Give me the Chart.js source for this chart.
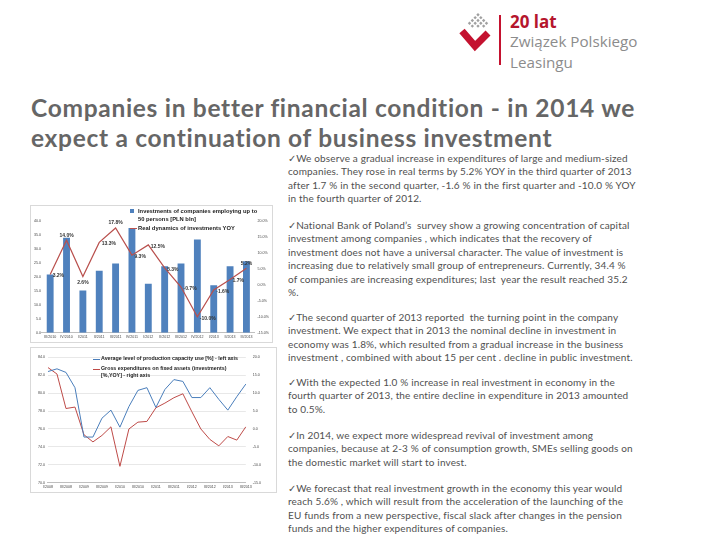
<!DOCTYPE html>
<html>
<head>
<meta charset="utf-8">
<script src="https://cdn.jsdelivr.net/npm/chart.js@4"></script>
<style>
  body { margin: 0; width: 720px; height: 540px; background: #fff; position: relative; overflow: hidden; font-family: Lato, "Open Sans", sans-serif; }
  .abs { position: absolute; }
  .logo-txt { font-family: "Open Sans", sans-serif; color: #8c8c8c; font-size: 15.2px; line-height: 14px; white-space: nowrap; }
  .title { left: 31px; font-weight: bold; font-size: 24.5px; letter-spacing: 0.7px; line-height: 24px; color: #666; white-space: nowrap; }
  .para { left: 288px; font-size: 10px; letter-spacing: 0.15px; line-height: 13.4px; color: #505050; white-space: nowrap; }
  .box { border: 1px solid #d9d9d9; background: #fff; }
  .legend { font-family: "Liberation Sans", Arial, sans-serif; font-weight: bold; color: #222; white-space: nowrap; }
</style>
</head>
<body>

<!-- logo -->
<svg class="abs" style="left:456px;top:8px" width="40" height="50">
  <g fill="#a0a0a0" transform="rotate(45 22 15)">
    <rect x="15" y="8" width="2.4" height="2.4"/><rect x="19" y="8" width="2.4" height="2.4"/><rect x="23" y="8" width="2.4" height="2.4"/><rect x="27" y="8" width="2.4" height="2.4"/>
    <rect x="15" y="12" width="2.4" height="2.4"/><rect x="19" y="12" width="2.4" height="2.4"/><rect x="23" y="12" width="2.4" height="2.4"/><rect x="27" y="12" width="2.4" height="2.4"/>
    <rect x="15" y="16" width="2.4" height="2.4"/><rect x="19" y="16" width="2.4" height="2.4"/><rect x="23" y="16" width="2.4" height="2.4"/>
    <rect x="15" y="20" width="2.4" height="2.4"/><rect x="19" y="20" width="2.4" height="2.4"/>
  </g>
  <polyline points="6,23 19,38 32,25" fill="none" stroke="#c4122f" stroke-width="7"/>
</svg>
<div class="abs" style="left:499px;top:15px;width:1.5px;height:50px;background:#c4122f"></div>
<div class="abs logo-txt" style="left:510px;top:15px;color:#b5152d;font-weight:bold;font-size:17px">20 lat</div>
<div class="abs logo-txt" style="left:510px;top:34px">Związek Polskiego</div>
<div class="abs logo-txt" style="left:510px;top:55px">Leasingu</div>

<div class="abs title" style="top:96px">Companies in better financial condition - in 2014 we</div>
<div class="abs title" style="top:126px">expect a continuation of business investment</div>

<div class="abs para" style="top:152px">✓We observe a gradual increase in expenditures of large and medium-sized<br>companies. They rose in real terms by 5.2% YOY in the third quarter of 2013<br>after 1.7 % in the second quarter, -1.6 % in the first quarter and -10.0 % YOY<br>in the fourth quarter of 2012.</div>
<div class="abs para" style="top:219px">✓National Bank of Poland’s&nbsp; survey show a growing concentration of capital<br>investment among companies , which indicates that the recovery of<br>investment does not have a universal character. The value of investment is<br>increasing due to relatively small group of entrepreneurs. Currently, 34.4 %<br>of companies are increasing expenditures; last&nbsp; year the result reached 35.2<br>%.</div>
<div class="abs para" style="top:311px">✓The second quarter of 2013 reported&nbsp; the turning point in the company<br>investment. We expect that in 2013 the nominal decline in investment in<br>economy was 1.8%, which resulted from a gradual increase in the business<br>investment , combined with about 15 per cent . decline in public investment.</div>
<div class="abs para" style="top:376px">✓With the expected 1.0 % increase in real investment in economy in the<br>fourth quarter of 2013, the entire decline in expenditure in 2013 amounted<br>to 0.5%.</div>
<div class="abs para" style="top:429px">✓In 2014, we expect more widespread revival of investment among<br>companies, because at 2-3 % of consumption growth, SMEs selling goods on<br>the domestic market will start to invest.</div>
<div class="abs para" style="top:482px">✓We forecast that real investment growth in the economy this year would<br>reach 5.6% , which will result from the acceleration of the launching of the<br>EU funds from a new perspective, fiscal slack after changes in the pension<br>funds and the higher expenditures of companies.</div>

<!-- top chart -->
<div class="abs box" style="left:30px;top:205px;width:241px;height:136px">
  <canvas id="invChart"></canvas>
</div>
<div class="abs" style="left:130px;top:209px;width:4px;height:4px;background:#4f81bd"></div>
<div class="abs legend" style="left:138px;top:207px;font-size:5.8px;line-height:8.3px">Investments of companies employing up to<br>50 persons [PLN bln]<br>Real dynamics of investments YOY</div>
<div class="abs" style="left:130px;top:227.5px;width:7px;height:1.2px;background:#b9504d"></div>

<!-- bottom chart -->
<div class="abs box" style="left:30px;top:347px;width:245px;height:144px">
  <canvas id="capChart"></canvas>
</div>
<div class="abs" style="left:93px;top:358.5px;width:7px;height:1.2px;background:#4a7ebb"></div>
<div class="abs" style="left:93px;top:368.5px;width:7px;height:1.2px;background:#be4b48"></div>
<div class="abs legend" style="left:101px;top:355px;font-size:5.3px;line-height:7.2px">Average level of production capacity use [%] - left axis<br><span style="display:inline-block;margin-top:3px">Gross expenditures on fixed assets (investments)</span><br>[%,YOY] - right axis</div>

<script>
// top chart data
const quarters = ['III/2010', 'IV/2010', 'I/2011', 'II/2011', 'III/2011', 'IV/2011', 'I/2012',
  'II/2012', 'III/2012', 'IV/2012', 'I/2013', 'II/2013', 'III/2013'];
const investments = [20.8, 34.0, 15.1, 22.2, 24.8, 37.5, 17.5, 23.8, 24.8, 33.4, 17.0, 23.8, 25.6];
const investYoy = [3.2, 14.0, 2.6, 13.3, 17.8, 9.3, 12.5, 5.3, -0.7, -10.0, -1.6, 1.7, 5.2];
const yoyLabelSide = ['right', 'above', 'below', 'right', 'above', 'right', 'right',
  'right', 'right', 'right', 'right', 'right', 'above'];

// bottom chart data
const months = ['I/2008', 'II/2008', 'III/2008', 'IV/2008', 'I/2009', 'II/2009', 'III/2009', 'IV/2009',
  'I/2010', 'II/2010', 'III/2010', 'IV/2010', 'I/2011', 'II/2011', 'III/2011', 'IV/2011',
  'I/2012', 'II/2012', 'III/2012', 'IV/2012', 'I/2013', 'II/2013', 'III/2013'];
const capacityUse = [82.4, 82.7, 82.3, 80.6, 75.1, 75.1, 77.2, 78.1, 76.2, 78.5, 80.3, 80.6,
  78.4, 80.4, 81.5, 81.3, 79.5, 79.5, 80.6, 79.3, 78.1, 79.6, 81.0];
const grossFixed = [17.1, 15.3, 5.7, 6.1, -1.6, -3.6, -1.8, 0.6, -10.4, 0.0, 1.9, 2.1,
  5.9, 7.2, 8.7, 9.8, 4.8, 0.0, -2.9, -4.7, -2.1, -3.1, 0.6];

const tickFont = { family: 'Liberation Sans', size: 3.6 };
const tickColor = '#444';

// labels next to the YOY line points
const pointLabels = {
  id: 'pointLabels',
  afterDatasetsDraw(chart) {
    const meta = chart.getDatasetMeta(0);
    const ctx = chart.ctx;
    ctx.save();
    ctx.font = 'bold 5px "Liberation Sans"';
    ctx.fillStyle = '#333';
    ctx.textBaseline = 'middle';
    meta.data.forEach((pt, i) => {
      const txt = investYoy[i].toFixed(1) + '%';
      const side = yoyLabelSide[i];
      if (side === 'above') {
        ctx.textAlign = 'center';
        ctx.fillText(txt, pt.x, pt.y - 5);
      } else if (side === 'below') {
        ctx.textAlign = 'center';
        ctx.fillText(txt, pt.x, pt.y + 6);
      } else {
        ctx.textAlign = 'left';
        ctx.fillText(txt, pt.x + 2.5, pt.y + 1.5);
      }
    });
    ctx.restore();
  }
};

new Chart(document.getElementById('invChart'), {
  data: {
    labels: quarters,
    datasets: [{
      type: 'line',
      data: investYoy,
      yAxisID: 'y1',
      borderColor: '#b9504d',
      borderWidth: 1.2,
      pointRadius: 0,
      tension: 0,
      order: 0
    }, {
      type: 'bar',
      data: investments,
      yAxisID: 'y',
      backgroundColor: '#4f81bd',
      categoryPercentage: 1,
      barPercentage: 0.42,
      order: 1
    }]
  },
  options: {
    responsive: true,
    maintainAspectRatio: false,
    animation: false,
    layout: { padding: { top: 15, left: 2, right: 0, bottom: 1 } },
    plugins: { legend: { display: false }, tooltip: { enabled: false } },
    scales: {
      x: {
        grid: { display: false, drawTicks: false },
        border: { display: true, color: '#bfbfbf' },
        ticks: { font: tickFont, color: tickColor, autoSkip: false, maxRotation: 0, padding: 2 }
      },
      y: {
        position: 'left',
        min: 0, max: 40,
        grid: { display: false, drawTicks: false },
        border: { display: false },
        ticks: { stepSize: 5, font: tickFont, color: tickColor, padding: 1, callback: v => v.toFixed(1) }
      },
      y1: {
        position: 'right',
        min: -15, max: 20,
        grid: { display: false, drawTicks: false },
        border: { display: false },
        ticks: { stepSize: 5, font: tickFont, color: tickColor, padding: 3, callback: v => v.toFixed(1) + '%' }
      }
    }
  },
  plugins: [pointLabels]
});

new Chart(document.getElementById('capChart'), {
  type: 'line',
  data: {
    labels: months,
    datasets: [{
      data: capacityUse,
      yAxisID: 'y',
      borderColor: '#4a7ebb',
      borderWidth: 1,
      pointRadius: 0,
      tension: 0
    }, {
      data: grossFixed,
      yAxisID: 'y1',
      borderColor: '#be4b48',
      borderWidth: 1,
      pointRadius: 0,
      tension: 0
    }]
  },
  options: {
    responsive: true,
    maintainAspectRatio: false,
    animation: false,
    layout: { padding: { top: 0, left: 4, right: 8, bottom: 0 } },
    plugins: { legend: { display: false }, tooltip: { enabled: false } },
    scales: {
      x: {
        offset: false,
        grid: { display: false, drawTicks: false },
        border: { display: true, color: '#bfbfbf' },
        ticks: {
          font: tickFont, color: tickColor, autoSkip: false, maxRotation: 0, padding: 2,
          callback: (v, i) => (i % 2 === 0 ? months[i] : '')
        }
      },
      y: {
        position: 'left',
        min: 70, max: 84,
        grid: { color: '#d9d9d9', lineWidth: 0.6, drawTicks: false },
        border: { display: false },
        ticks: { stepSize: 2, font: tickFont, color: tickColor, padding: 3, callback: v => v.toFixed(1) }
      },
      y1: {
        position: 'right',
        min: -15, max: 20,
        grid: { display: false, drawTicks: false },
        border: { display: false },
        ticks: { stepSize: 5, font: tickFont, color: tickColor, padding: 7, callback: v => v.toFixed(1) }
      }
    }
  }
});
</script>
</body>
</html>
